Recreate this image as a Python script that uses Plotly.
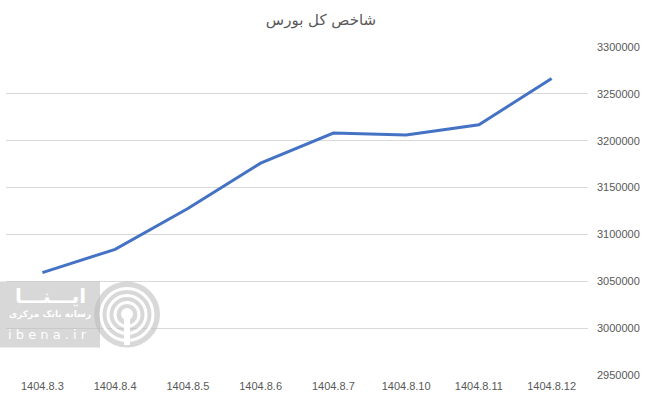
import plotly.graph_objects as go

categories = ["1404.8.3", "1404.8.4", "1404.8.5", "1404.8.6", "1404.8.7", "1404.8.10", "1404.8.11", "1404.8.12"]
index_values = [3059300, 3084100, 3127700, 3176000, 3208200, 3206100, 3217000, 3266300]
y_ticks = [2950000, 3000000, 3050000, 3100000, 3150000, 3200000, 3250000, 3300000]
y_tick_labels = ["2950000", "3000000", "3050000", "3100000", "3150000", "3200000", "3250000", "3300000"]
title_text = "شاخص کل بورس"

W, H = 649, 405
ml, mr, mt, mb = 6, 61, 47, 30
pw, ph = W - ml - mr, H - mt - mb

def fx(px):
    return (px - ml) / pw

def fy(py):
    return (H - mb - py) / ph

fig = go.Figure()
fig.add_trace(go.Scatter(
    x=categories, y=index_values, mode="lines",
    line=dict(color="#4472C4", width=3),
    hoverinfo="x+y", showlegend=False,
))

wm = "rgba(190,190,190,0.6)"
shapes = [
    dict(type="rect", xref="paper", yref="paper", x0=fx(0), x1=fx(100), y0=fy(347.5), y1=fy(281.5),
         fillcolor=wm, line=dict(width=0), layer="above"),
    dict(type="circle", xref="paper", yref="paper", x0=fx(94), x1=fx(160), y0=fy(347.5), y1=fy(281.5),
         fillcolor=wm, line=dict(width=0), layer="above"),
]
for r in (26, 19, 12):
    shapes.append(dict(type="circle", xref="paper", yref="paper", x0=fx(127 - r), x1=fx(127 + r),
                       y0=fy(314.5 + r), y1=fy(314.5 - r), line=dict(color="white", width=3), layer="above"))
shapes.append(dict(type="circle", xref="paper", yref="paper", x0=fx(121), x1=fx(133), y0=fy(320), y1=fy(308),
                   fillcolor="white", line=dict(width=0), layer="above"))
shapes.append(dict(type="rect", xref="paper", yref="paper", x0=fx(124), x1=fx(130), y0=fy(345), y1=fy(318),
                   fillcolor="white", line=dict(width=0), layer="above"))

annotations = [
    dict(text="<b>ایـــنـــا</b>", xref="paper", yref="paper", x=fx(50), y=fy(296), showarrow=False,
         font=dict(family="DejaVu Sans", size=20, color="white"), xanchor="center", yanchor="middle"),
    dict(text="<b>رسانه بانک مرکزی</b>", xref="paper", yref="paper", x=fx(50), y=fy(314), showarrow=False,
         font=dict(family="DejaVu Sans", size=9, color="white"), xanchor="center", yanchor="middle"),
    dict(text="i b e n a . i r", xref="paper", yref="paper", x=fx(47), y=fy(334), showarrow=False,
         font=dict(family="DejaVu Sans", size=13, color="white"), xanchor="center", yanchor="middle"),
]

fig.update_layout(
    width=W, height=H,
    margin=dict(l=ml, r=mr, t=mt, b=mb, autoexpand=False),
    paper_bgcolor="white", plot_bgcolor="white",
    title=dict(text=title_text, x=321 / W, xanchor="center", y=1 - 20 / H, yanchor="middle",
               font=dict(family="DejaVu Sans, Arial", size=15, color="#595959")),
    xaxis=dict(type="category", range=[-0.5, 7.5], showgrid=False, showline=False, ticks="",
               automargin=False, ticklabelstandoff=3,
               tickfont=dict(family="Liberation Sans, Arial", size=11, color="#595959")),
    yaxis=dict(side="right", range=[2950000, 3300000], tickmode="array", tickvals=y_ticks,
               ticktext=y_tick_labels,
               showgrid=True, gridcolor="#d9d9d9", gridwidth=1, zeroline=False, showline=False,
               ticks="", automargin=False, ticklabelstandoff=8,
               tickfont=dict(family="Liberation Sans, Arial", size=11, color="#595959")),
    shapes=shapes, annotations=annotations,
)

fig.write_html("out.html", config={"displayModeBar": False},
               post_script="document.body.style.margin='0';")
